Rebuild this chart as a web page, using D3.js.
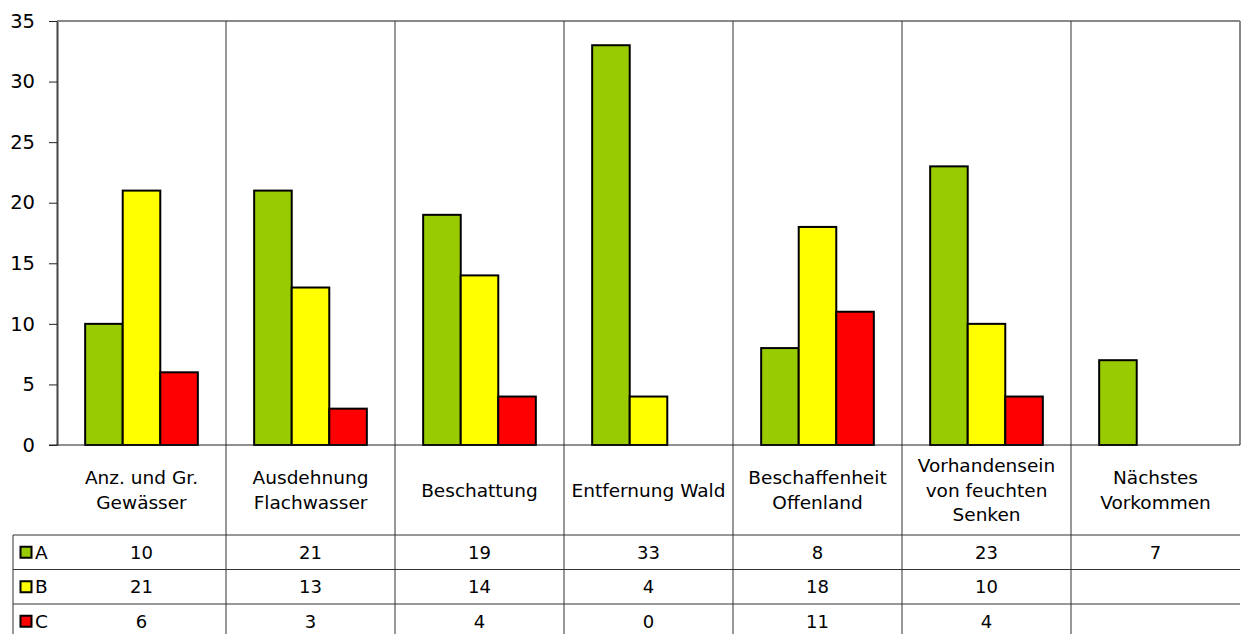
<!DOCTYPE html>
<html>
<head>
<meta charset="utf-8">
<script src="https://cdn.jsdelivr.net/npm/d3@7"></script>
<style>
  body { margin: 0; background: #fff; }
  svg { display: block; font-family: "DejaVu Sans", Verdana, sans-serif; }
</style>
</head>
<body>
<svg width="1242" height="634"></svg>
<script>
const categories = [
  ["Anz. und Gr.", "Gewässer"],
  ["Ausdehnung", "Flachwasser"],
  ["Beschattung"],
  ["Entfernung Wald"],
  ["Beschaffenheit", "Offenland"],
  ["Vorhandensein", "von feuchten", "Senken"],
  ["Nächstes", "Vorkommen"]
];
const seriesNames = ["A", "B", "C"];
const valuesA = [10, 21, 19, 33, 8, 23, 7];
const valuesB = [21, 13, 14, 4, 18, 10, null];
const valuesC = [6, 3, 4, 0, 11, 4, null];
const colors = ["#99cc00", "#ffff00", "#ff0000"];
const yTicks = [0, 5, 10, 15, 20, 25, 30, 35];

const series = [valuesA, valuesB, valuesC];

const svg = d3.select("svg");
const plot = {left: 57, right: 1240, top: 21, bottom: 445};
const tableTop = 535;
const rowH = 34.5;
const legendLeft = 13;

const x = d3.scaleBand()
    .domain(d3.range(categories.length))
    .range([plot.left, plot.right]);
// gap between groups = 1.5 bar widths
const xs = d3.scaleBand()
    .domain(d3.range(3))
    .range([0, x.bandwidth()])
    .paddingOuter(0.75)
    .paddingInner(0);
const y = d3.scaleLinear()
    .domain([0, 35])
    .range([plot.bottom, plot.top]);

// plot frame (top + right) and category dividers
svg.append("line")
    .attr("x1", plot.left).attr("x2", plot.right)
    .attr("y1", plot.top).attr("y2", plot.top)
    .attr("stroke", "#888").attr("stroke-width", 2);

svg.append("g")
  .selectAll("line")
  .data(d3.range(1, categories.length + 1))
  .join("line")
    .attr("x1", i => i === categories.length ? plot.right : x(i))
    .attr("x2", i => i === categories.length ? plot.right : x(i))
    .attr("y1", plot.top)
    .attr("y2", i => i === categories.length ? plot.bottom : 634)
    .attr("stroke", i => i === categories.length ? "#888" : "#333")
    .attr("stroke-width", i => i === categories.length ? 2 : 1);

// y axis
const yAxis = svg.append("g")
    .attr("transform", `translate(${plot.left},0)`)
    .call(d3.axisLeft(y).tickValues(yTicks).tickSize(8).tickSizeOuter(0));
yAxis.select(".domain").attr("stroke", "#444").attr("stroke-width", 2);
yAxis.selectAll(".tick line").attr("stroke", "#222");
yAxis.selectAll(".tick text")
    .attr("x", -22)
    .attr("font-size", 19.5)
    .attr("font-family", "DejaVu Sans, Verdana, sans-serif")
    .attr("fill", "#000");

// bars
svg.append("g")
  .selectAll("g")
  .data(series)
  .join("g")
    .attr("fill", (d, i) => colors[i])
  .selectAll("rect")
  .data((d, si) => d.map((v, ci) => ({v, ci, si})).filter(e => e.v))
  .join("rect")
    .attr("x", d => x(d.ci) + xs(d.si))
    .attr("y", d => y(d.v))
    .attr("width", xs.bandwidth())
    .attr("height", d => y(0) - y(d.v))
    .attr("stroke", "#000")
    .attr("stroke-width", 2);

// zero line
svg.append("line")
    .attr("x1", plot.left - 8).attr("x2", plot.right)
    .attr("y1", plot.bottom).attr("y2", plot.bottom)
    .attr("stroke", "#222").attr("stroke-width", 1);

// category labels
const lineH = 24.5;
svg.append("g")
  .selectAll("text")
  .data(categories)
  .join("text")
    .attr("text-anchor", "middle")
    .attr("font-size", 18.5)
    .attr("fill", "#000")
    .attr("transform", (d, i) => `translate(${x(i) + x.bandwidth() / 2},${(plot.bottom + tableTop) / 2 - (d.length - 1) * lineH / 2})`)
  .selectAll("tspan")
  .data(d => d)
  .join("tspan")
    .attr("x", 0)
    .attr("y", (d, i) => i * lineH)
    .attr("dy", "0.36em")
    .text(d => d);

// data table rows
const table = svg.append("g");
table.selectAll("line.row")
  .data(d3.range(3))
  .join("line")
    .attr("class", "row")
    .attr("x1", legendLeft).attr("x2", plot.right)
    .attr("y1", i => tableTop + i * rowH)
    .attr("y2", i => tableTop + i * rowH)
    .attr("stroke", "#333").attr("stroke-width", 1);
table.append("line")
    .attr("x1", legendLeft).attr("x2", legendLeft)
    .attr("y1", tableTop).attr("y2", 634)
    .attr("stroke", "#333");

const rows = table.selectAll("g.r")
  .data(series)
  .join("g")
    .attr("class", "r")
    .attr("transform", (d, i) => `translate(0,${tableTop + i * rowH + rowH / 2})`);

rows.append("rect")
    .attr("x", 20.5).attr("y", -5.5)
    .attr("width", 11).attr("height", 11)
    .attr("fill", (d, i) => colors[i])
    .attr("stroke", "#000").attr("stroke-width", 2);
rows.append("text")
    .attr("x", 35)
    .attr("dy", "0.36em")
    .attr("font-size", 18.5)
    .text((d, i) => seriesNames[i]);

rows.selectAll("text.v")
  .data(d => d.map((v, ci) => ({v, ci})).filter(e => e.v !== null))
  .join("text")
    .attr("class", "v")
    .attr("x", d => x(d.ci) + x.bandwidth() / 2)
    .attr("dy", "0.36em")
    .attr("text-anchor", "middle")
    .attr("font-size", 18)
    .text(d => d.v);
</script>
</body>
</html>
